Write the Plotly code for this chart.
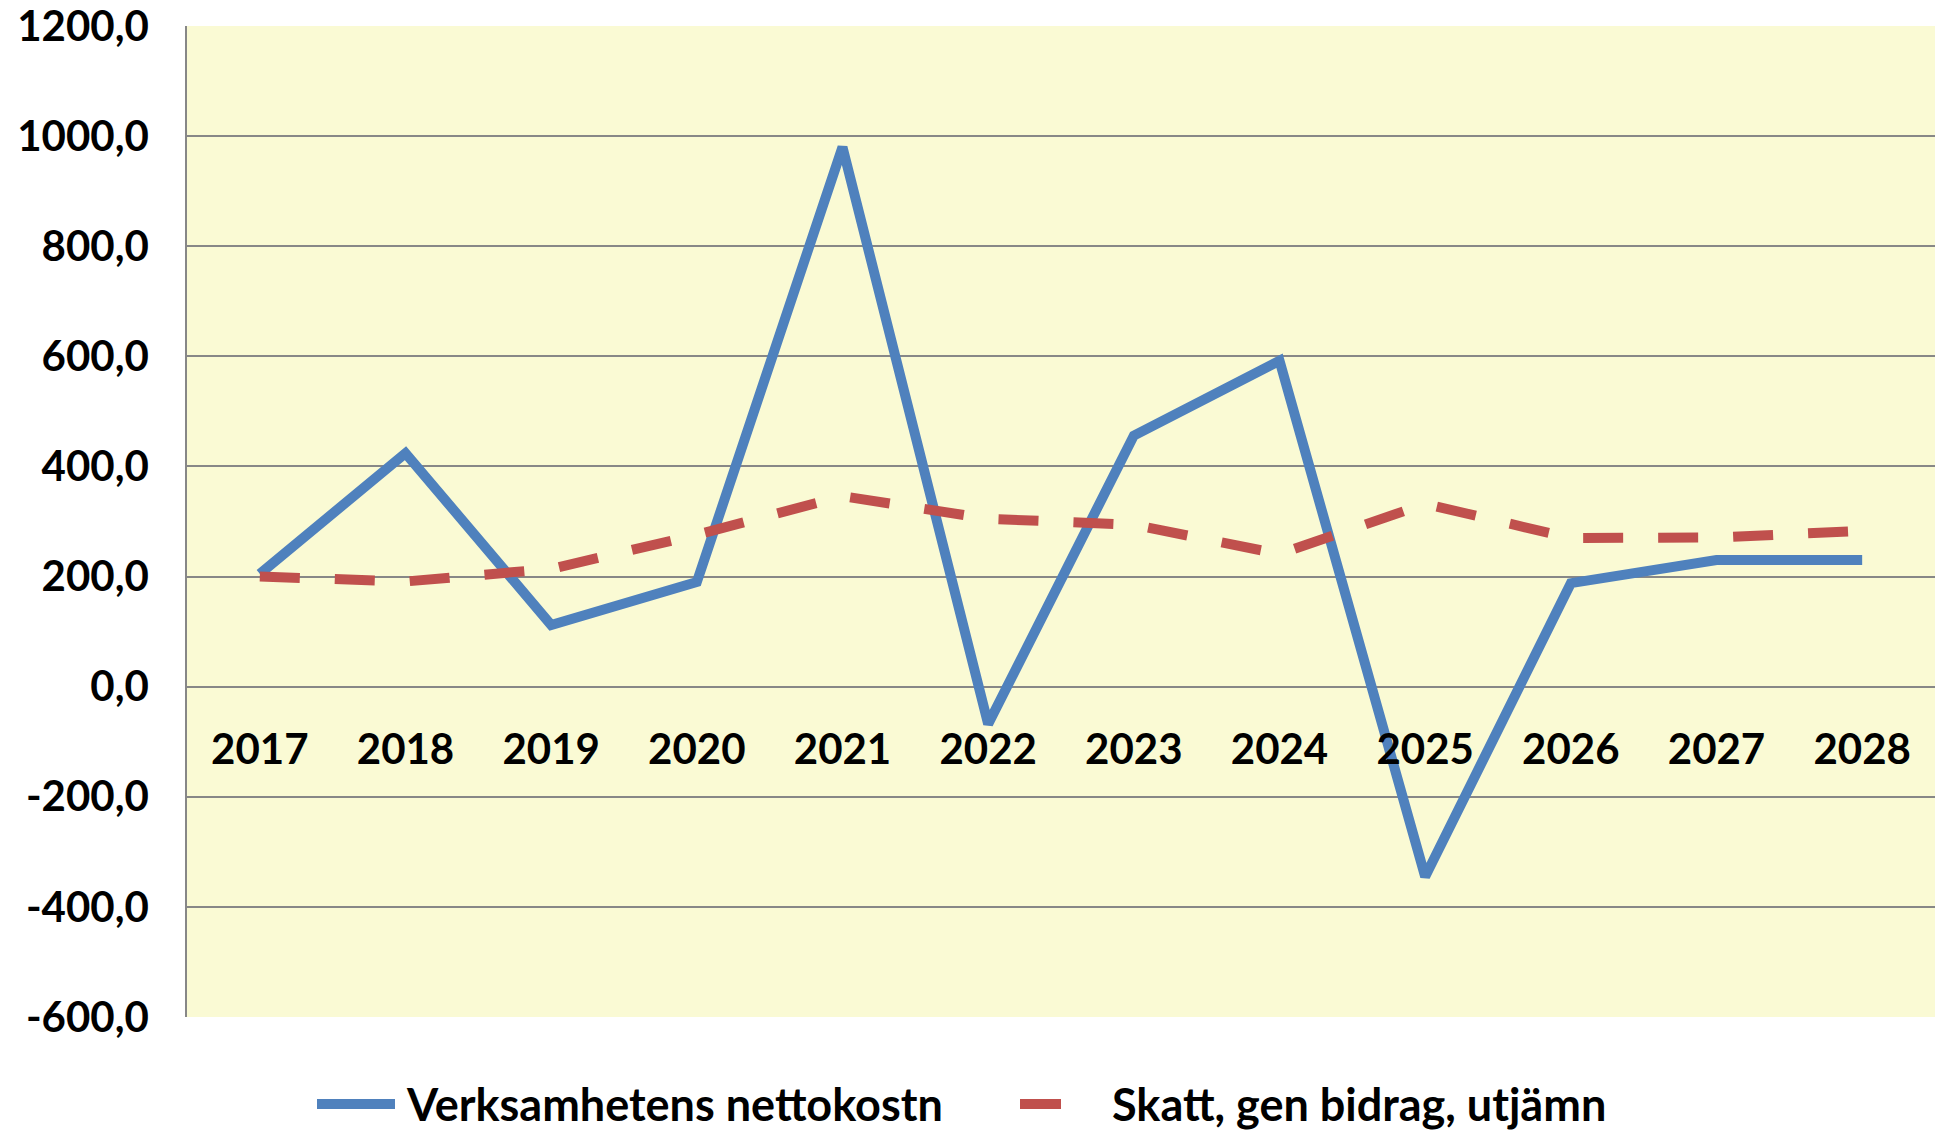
import plotly.graph_objects as go

# Årsdata
years = ["2017", "2018", "2019", "2020", "2021", "2022",
         "2023", "2024", "2025", "2026", "2027", "2028"]
nettokostn = [205, 424, 112, 190, 980, -68, 456, 592, -345, 188, 230, 230]
skatt_bidrag = [200, 191, 214, 276, 346, 305, 294, 241, 332, 270, 271, 283]

series_names = ["Verksamhetens nettokostn", "Skatt, gen bidrag, utjämn"]
series_colors = ["#4F81BD", "#C0504D"]

y_ticks = [1200, 1000, 800, 600, 400, 200, 0, -200, -400, -600]
y_ticktext = ["1200,0", "1000,0", "800,0", "600,0", "400,0", "200,0",
              "0,0", "-200,0", "-400,0", "-600,0"]

y_min, y_max = -600, 1200

FONT = "Lato"
GRID = "#878787"
W, H = 1949, 1135
M_L, M_R, M_T, M_B = 187, 14, 26, 118
plot_w = W - M_L - M_R
plot_h = H - M_T - M_B


def px_x(x):
    """Pixel column -> paper x."""
    return (x - M_L) / plot_w


def px_y(y):
    """Pixel row -> paper y."""
    return (H - M_B - y) / plot_h


fig = go.Figure()

fig.add_trace(go.Scatter(
    x=years, y=nettokostn, mode="lines",
    name=series_names[0],
    line=dict(color=series_colors[0], width=10),
))
fig.add_trace(go.Scatter(
    x=years, y=skatt_bidrag, mode="lines",
    name=series_names[1],
    line=dict(color=series_colors[1], width=10, dash="40px,35px"),
))

# Legend drawn below the plot: line sample + label per series
legend_y = px_y(1104)
legend_items = [
    (317, 395, 404),    # sample start, sample end, text start
    (1020, 1061, 1110),
]
shapes = []
annotations = []
for (s0, s1, tx), name, color in zip(legend_items, series_names, series_colors):
    shapes.append(dict(
        type="line", xref="paper", yref="paper",
        x0=px_x(s0), x1=px_x(s1), y0=legend_y, y1=legend_y,
        line=dict(color=color, width=10),
    ))
    annotations.append(dict(
        xref="paper", yref="paper", x=px_x(tx), y=legend_y,
        xanchor="left", yanchor="middle", showarrow=False,
        text=name,
        font=dict(family=FONT, size=45, color="black", weight="bold"),
    ))

fig.update_layout(
    width=W, height=H,
    margin=dict(l=M_L, r=M_R, t=M_T, b=M_B, autoexpand=False),
    paper_bgcolor="white",
    plot_bgcolor="#FAFAD4",
    font=dict(family=FONT, size=42, color="black", weight="bold"),
    showlegend=False,
    shapes=shapes,
    annotations=annotations,
    xaxis=dict(
        type="category",
        range=[-0.5, len(years) - 0.5],
        anchor="free",
        position=(0 - y_min) / (y_max - y_min),
        showgrid=False,
        showline=False,
        zeroline=False,
        ticks="",
        automargin=False,
        ticklabelstandoff=34,
        ticklabeloverflow="allow",
        tickfont=dict(family=FONT, size=42, color="black", weight="bold"),
    ),
    yaxis=dict(
        range=[y_min, y_max],
        tickvals=y_ticks,
        ticktext=y_ticktext,
        showgrid=True,
        gridcolor=GRID,
        gridwidth=1.5,
        zeroline=True,
        zerolinecolor=GRID,
        zerolinewidth=1.5,
        showline=True,
        linecolor=GRID,
        linewidth=1.5,
        ticks="",
        automargin=False,
        ticklabelstandoff=28,
        ticklabeloverflow="allow",
        tickfont=dict(family=FONT, size=42, color="black", weight="bold"),
    ),
)

fig.write_html("out.html")
